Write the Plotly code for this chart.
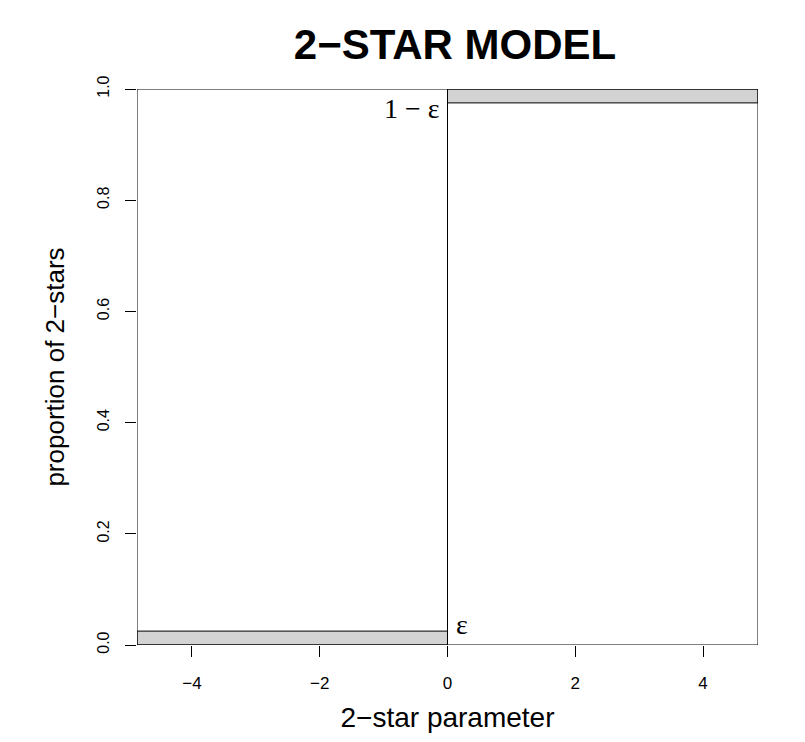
import plotly.graph_objects as go

# Proportion of 2-stars against the 2-star parameter: a sharp jump at 0,
# with the reachable band of width epsilon at each end.
EPS = 0.025
x_limits = [-4.86, 4.86]
param_lo = [-4.86, 0.0]
param_hi = [0.0, 4.86]
band_lo = [0.0, 1.0 - EPS]
band_hi = [EPS, 1.0]

x_ticks = [-4, -2, 0, 2, 4]
x_tick_text = ["\u22124", "\u22122", "0", "2", "4"]
y_ticks = [0.0, 0.2, 0.4, 0.6, 0.8, 1.0]
y_tick_text = ["0.0", "0.2", "0.4", "0.6", "0.8", "1.0"]

SANS = "Liberation Sans, Arial, Helvetica, sans-serif"
SERIF = "Liberation Serif, Times New Roman, serif"

fig = go.Figure()

for lo, hi, b0, b1 in zip(param_lo, param_hi, band_lo, band_hi):
    # shaded band
    fig.add_trace(go.Scatter(
        x=[lo, hi, hi, lo, lo], y=[b0, b0, b1, b1, b0],
        mode="lines", fill="toself", fillcolor="#d3d3d3",
        line=dict(color="black", width=1), hoverinfo="skip", showlegend=False))
    # outline of the region
    fig.add_trace(go.Scatter(
        x=[lo, hi, hi, lo, lo], y=[0, 0, 1, 1, 0],
        mode="lines", line=dict(color="black", width=1),
        hoverinfo="skip", showlegend=False))

fig.add_annotation(x=0, y=1 - EPS, text="1 \u2212 \u03b5", showarrow=False,
                   xanchor="right", yanchor="middle", xshift=-6, yshift=-6,
                   font=dict(family=SERIF, size=28, color="black"))
fig.add_annotation(x=0, y=EPS, text="\u03b5", showarrow=False,
                   xanchor="left", yanchor="middle", xshift=6, yshift=7,
                   font=dict(family=SERIF, size=28, color="black"))

fig.update_layout(
    width=805, height=742,
    margin=dict(l=137, r=47, t=89, b=97),
    paper_bgcolor="white", plot_bgcolor="white",
    title=dict(text="<b>2\u2212STAR MODEL</b>", x=455 / 805, xanchor="center",
               y=1 - 44 / 742, yanchor="middle", yref="container",
               font=dict(family=SANS, size=42, color="black")),
    font=dict(family=SANS, color="black"),
)
fig.update_xaxes(
    range=x_limits, showgrid=False, zeroline=False, showline=False,
    tickmode="array", tickvals=x_ticks, ticktext=x_tick_text,
    ticks="outside", ticklen=11, tickwidth=1, tickcolor="black",
    ticklabelstandoff=12,
    tickfont=dict(family=SANS, size=17, color="black"),
    title=dict(text="2\u2212star parameter", standoff=14,
               font=dict(family=SANS, size=28, color="black")),
)
fig.update_yaxes(
    range=[0, 1], showgrid=False, zeroline=False, showline=False,
    tickmode="array", tickvals=y_ticks, ticktext=y_tick_text, tickangle=-90,
    ticks="outside", ticklen=11, tickwidth=1, tickcolor="black",
    ticklabelstandoff=10,
    tickfont=dict(family=SANS, size=16, color="black"),
    title=dict(text="proportion of 2\u2212stars", standoff=22,
               font=dict(family=SANS, size=26, color="black")),
)

fig.write_html("out.html")
